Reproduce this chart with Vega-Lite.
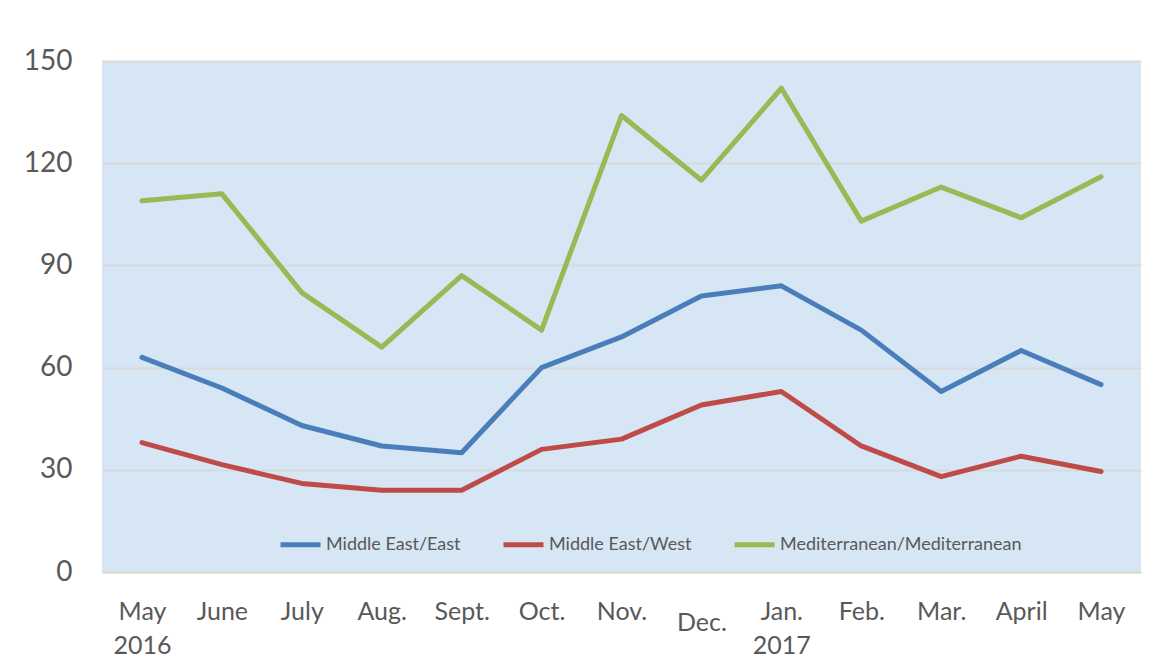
{
  "$schema": "https://vega.github.io/schema/vega-lite/v6.json",
  "autosize": {"type": "none"},
  "width": 1039,
  "height": 511,
  "padding": {"left": 102, "top": 61, "right": 31, "bottom": 98},
  "background": "white",
  "config": {
    "view": {"fill": "#d7e6f5", "stroke": null},
    "font": "Lato"
  },
  "data": {
    "values": [
      {"month": "May 2016", "series": "Middle East/East", "value": 63},
      {"month": "June", "series": "Middle East/East", "value": 54},
      {"month": "July", "series": "Middle East/East", "value": 43},
      {"month": "Aug.", "series": "Middle East/East", "value": 37},
      {"month": "Sept.", "series": "Middle East/East", "value": 35},
      {"month": "Oct.", "series": "Middle East/East", "value": 60},
      {"month": "Nov.", "series": "Middle East/East", "value": 69},
      {"month": "Dec.", "series": "Middle East/East", "value": 81},
      {"month": "Jan. 2017", "series": "Middle East/East", "value": 84},
      {"month": "Feb.", "series": "Middle East/East", "value": 71},
      {"month": "Mar.", "series": "Middle East/East", "value": 53},
      {"month": "April", "series": "Middle East/East", "value": 65},
      {"month": "May", "series": "Middle East/East", "value": 55},
      {"month": "May 2016", "series": "Middle East/West", "value": 38},
      {"month": "June", "series": "Middle East/West", "value": 31.5},
      {"month": "July", "series": "Middle East/West", "value": 26},
      {"month": "Aug.", "series": "Middle East/West", "value": 24},
      {"month": "Sept.", "series": "Middle East/West", "value": 24},
      {"month": "Oct.", "series": "Middle East/West", "value": 36},
      {"month": "Nov.", "series": "Middle East/West", "value": 39},
      {"month": "Dec.", "series": "Middle East/West", "value": 49},
      {"month": "Jan. 2017", "series": "Middle East/West", "value": 53},
      {"month": "Feb.", "series": "Middle East/West", "value": 37},
      {"month": "Mar.", "series": "Middle East/West", "value": 28},
      {"month": "April", "series": "Middle East/West", "value": 34},
      {"month": "May", "series": "Middle East/West", "value": 29.5},
      {"month": "May 2016", "series": "Mediterranean/Mediterranean", "value": 109},
      {"month": "June", "series": "Mediterranean/Mediterranean", "value": 111},
      {"month": "July", "series": "Mediterranean/Mediterranean", "value": 82},
      {"month": "Aug.", "series": "Mediterranean/Mediterranean", "value": 66},
      {"month": "Sept.", "series": "Mediterranean/Mediterranean", "value": 87},
      {"month": "Oct.", "series": "Mediterranean/Mediterranean", "value": 71},
      {"month": "Nov.", "series": "Mediterranean/Mediterranean", "value": 134},
      {"month": "Dec.", "series": "Mediterranean/Mediterranean", "value": 115},
      {"month": "Jan. 2017", "series": "Mediterranean/Mediterranean", "value": 142},
      {"month": "Feb.", "series": "Mediterranean/Mediterranean", "value": 103},
      {"month": "Mar.", "series": "Mediterranean/Mediterranean", "value": 113},
      {"month": "April", "series": "Mediterranean/Mediterranean", "value": 104},
      {"month": "May", "series": "Mediterranean/Mediterranean", "value": 116}
    ]
  },
  "mark": {"type": "line", "strokeWidth": 5, "strokeJoin": "round", "strokeCap": "round"},
  "encoding": {
    "x": {
      "field": "month",
      "type": "ordinal",
      "sort": null,
      "scale": {"type": "point", "padding": 0.5},
      "axis": {
        "title": null,
        "labelAngle": 0,
        "labelFontSize": 25,
        "labelColor": "#595959",
        "labelFont": "Lato",
        "labelExpr": "split(datum.label, ' ')",
        "labelLineHeight": 34,
        "labelBaseline": "top",
        "labelPadding": {"condition": {"test": "datum.value === 'Dec.'", "value": 38}, "value": 27},
        "ticks": false,
        "domainColor": "#d9d9d9",
        "domainWidth": 2,
        "grid": false
      }
    },
    "y": {
      "field": "value",
      "type": "quantitative",
      "scale": {"domain": [0, 150], "nice": false},
      "axis": {
        "title": null,
        "values": [0, 30, 60, 90, 120, 150],
        "labelFontSize": 28,
        "labelColor": "#595959",
        "labelFont": "Lato",
        "labelPadding": 30,
        "ticks": false,
        "domain": false,
        "gridColor": "#d9d9d9",
        "gridWidth": 2
      }
    },
    "color": {
      "field": "series",
      "type": "nominal",
      "sort": ["Middle East/East", "Middle East/West", "Mediterranean/Mediterranean"],
      "scale": {
        "domain": ["Middle East/East", "Middle East/West", "Mediterranean/Mediterranean"],
        "range": ["#4a7ebb", "#be4b48", "#98b954"]
      },
      "legend": {
        "title": null,
        "orient": "none",
        "legendX": 176,
        "legendY": 461,
        "direction": "horizontal",
        "symbolType": "stroke",
        "symbolStrokeWidth": 5,
        "symbolSize": 1600,
        "labelFontSize": 18,
        "labelLimit": 400,
        "labelColor": "#595959",
        "labelFont": "Lato",
        "columnPadding": 32,
        "labelOffset": 3
      }
    }
  }
}
